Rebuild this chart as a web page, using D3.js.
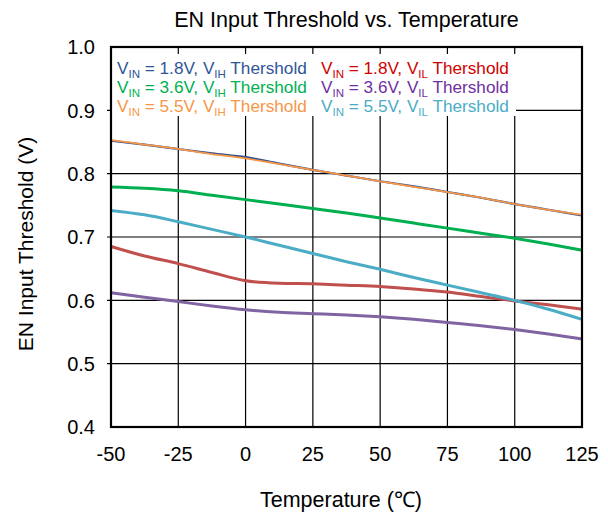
<!DOCTYPE html>
<html>
<head>
<meta charset="utf-8">
<script src="https://cdn.jsdelivr.net/npm/d3@7"></script>
<style>
  html, body { margin: 0; padding: 0; background: #fff; }
  svg { display: block; font-family: Arial, "Liberation Sans", sans-serif; }
</style>
</head>
<body>
<svg id="chart" width="608" height="518"></svg>
<script>
// Temperature sweep (°C)
const temps = [-50, -37.5, -25, -12.5, 0, 12.5, 25, 37.5, 50, 62.5, 75, 87.5, 100, 112.5, 125];

// Threshold voltages (V)
const vih18 = [0.852, 0.846, 0.839, 0.832, 0.826, 0.816, 0.806, 0.797, 0.788, 0.780, 0.771, 0.762, 0.752, 0.743, 0.734];
const vil18 = [0.685, 0.670, 0.658, 0.644, 0.631, 0.627, 0.626, 0.624, 0.622, 0.618, 0.613, 0.606, 0.599, 0.593, 0.586];
const vih36 = [0.779, 0.777, 0.773, 0.766, 0.759, 0.752, 0.745, 0.738, 0.730, 0.722, 0.714, 0.706, 0.698, 0.689, 0.679];
const vil36 = [0.612, 0.605, 0.598, 0.591, 0.585, 0.581, 0.579, 0.577, 0.574, 0.570, 0.565, 0.560, 0.554, 0.547, 0.539];
const vih55 = [0.853, 0.846, 0.839, 0.831, 0.824, 0.815, 0.806, 0.797, 0.788, 0.779, 0.771, 0.762, 0.752, 0.743, 0.735];
const vil55 = [0.742, 0.735, 0.724, 0.712, 0.700, 0.687, 0.674, 0.661, 0.649, 0.636, 0.624, 0.612, 0.600, 0.586, 0.570];

const xTicks = [-50, -25, 0, 25, 50, 75, 100, 125];
const yTicks = [0.4, 0.5, 0.6, 0.7, 0.8, 0.9, 1.0];

// Series: drawing order puts blue under orange
const series = [
  { vin: "1.8V", kind: "IH", values: vih18, line: "#2F4F8F", text: "#2F5597", width: 2.2 },
  { vin: "1.8V", kind: "IL", values: vil18, line: "#C0504D", text: "#D00000", width: 3 },
  { vin: "3.6V", kind: "IH", values: vih36, line: "#00B050", text: "#00B050", width: 3 },
  { vin: "3.6V", kind: "IL", values: vil36, line: "#8064A2", text: "#7030A0", width: 3 },
  { vin: "5.5V", kind: "IH", values: vih55, line: "#F79646", text: "#F79646", width: 1.8 },
  { vin: "5.5V", kind: "IL", values: vil55, line: "#4BACC6", text: "#4BACC6", width: 3 }
];

const svg = d3.select("#chart");
const plotL = 111, plotR = 582, plotT = 47, plotB = 427;

const x = d3.scaleLinear().domain([-50, 125]).range([plotL, plotR]);
const y = d3.scaleLinear().domain([0.4, 1.0]).range([plotB, plotT]);

// Grid
const grid = svg.append("g");
grid.selectAll("line.v").data(xTicks.slice(1, -1)).join("line")
  .attr("x1", d => x(d)).attr("x2", d => x(d))
  .attr("y1", plotT).attr("y2", plotB)
  .attr("stroke", "#000").attr("stroke-width", 1.2);
grid.selectAll("line.h").data(yTicks.slice(1, -1)).join("line")
  .attr("x1", plotL - 4).attr("x2", plotR)
  .attr("y1", d => y(d)).attr("y2", d => y(d))
  .attr("stroke", "#000").attr("stroke-width", 1.2);

// Curves
const lineGen = d3.line()
  .x((d, i) => x(temps[i]))
  .y(d => y(d))
  .curve(d3.curveMonotoneX);

const order = [1, 3, 5, 2, 0, 4];
svg.append("g").selectAll("path").data(order.map(i => series[i])).join("path")
  .attr("d", d => lineGen(d.values))
  .attr("fill", "none")
  .attr("stroke", d => d.line)
  .attr("stroke-width", d => d.width)
  .attr("stroke-linejoin", "round");

// Legend backdrop
svg.append("rect")
  .attr("x", plotL + 1).attr("y", 54)
  .attr("width", 404).attr("height", 62)
  .attr("fill", "#fff");

// Legend entries
const legend = svg.append("g").attr("font-size", 17.2);
series.forEach((s, i) => {
  const col = s.kind === "IH" ? 0 : 1;
  const row = Math.floor(i / 2);
  const t = legend.append("text")
    .attr("x", col === 0 ? 117 : 321)
    .attr("y", 73.5 + row * 19.3)
    .attr("fill", s.text);
  t.append("tspan").text("V");
  t.append("tspan").attr("font-size", 11.5).attr("dy", 4).text("IN");
  t.append("tspan").attr("dy", -4).text(` = ${s.vin}, V`);
  t.append("tspan").attr("font-size", 11.5).attr("dy", 4).text(s.kind);
  t.append("tspan").attr("dy", -4).text(" Thershold");
});

// Frame
svg.append("rect")
  .attr("x", plotL).attr("y", plotT)
  .attr("width", plotR - plotL).attr("height", plotB - plotT)
  .attr("fill", "none").attr("stroke", "#000").attr("stroke-width", 2.2);

// Tick labels
svg.append("g").selectAll("text").data(xTicks).join("text")
  .attr("x", d => x(d)).attr("y", 461)
  .attr("text-anchor", "middle").attr("font-size", 20)
  .text(d => d);

svg.append("g").selectAll("text").data(yTicks).join("text")
  .attr("x", 95).attr("y", d => y(d) + 7.2)
  .attr("text-anchor", "end").attr("font-size", 20)
  .text(d => d.toFixed(1));

// Titles
svg.append("text")
  .attr("x", (plotL + plotR) / 2).attr("y", 27)
  .attr("text-anchor", "middle").attr("font-size", 21.5)
  .text("EN Input Threshold vs. Temperature");

svg.append("text")
  .attr("x", 341).attr("y", 507)
  .attr("text-anchor", "middle").attr("font-size", 21.5)
  .text("Temperature (℃)");

svg.append("text")
  .attr("transform", "translate(33,244) rotate(-90)")
  .attr("text-anchor", "middle").attr("font-size", 21)
  .text("EN Input Threshold (V)");
</script>
</body>
</html>
